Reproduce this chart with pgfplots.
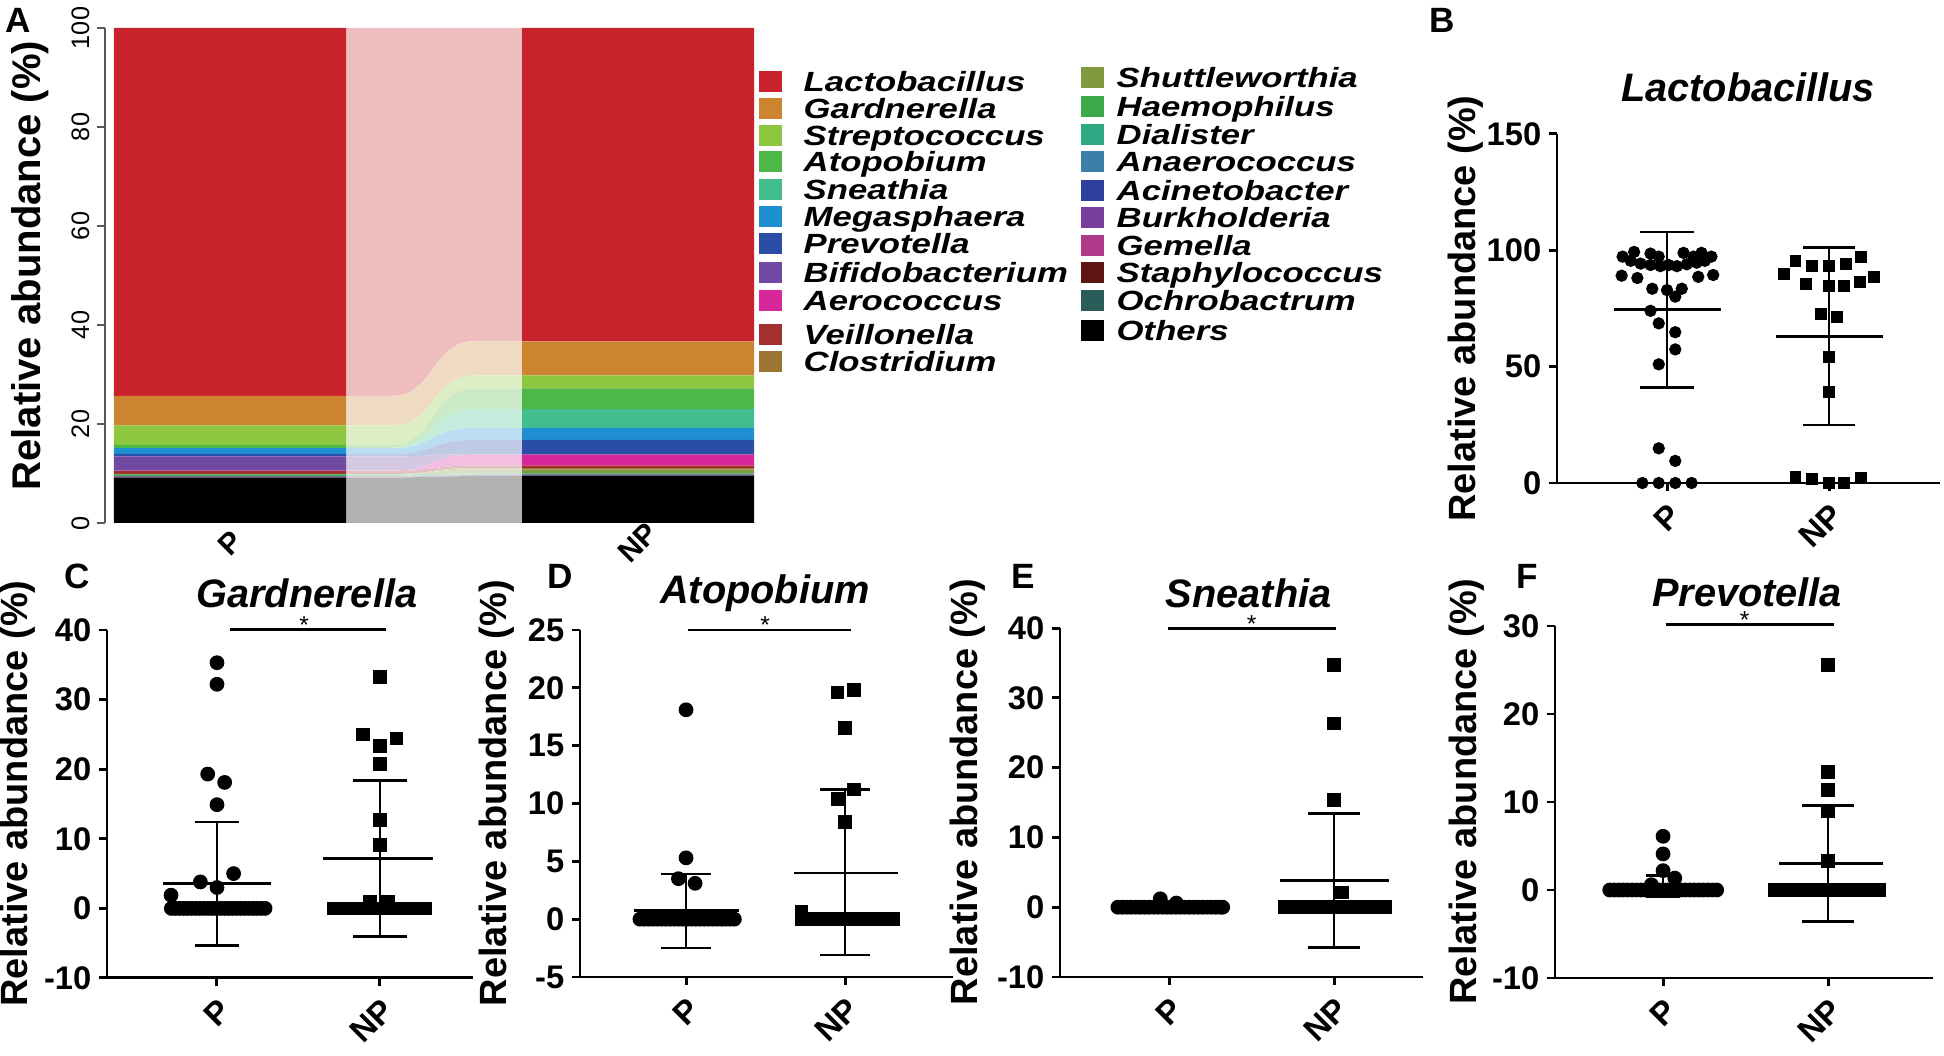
\documentclass[border=0pt]{standalone}
\usepackage{fontspec}
\setmainfont{Liberation Sans}
\newfontfamily\legfamily{Liberation Sans}[FakeStretch=1.25]
\usepackage{pgfplots}
\pgfplotsset{compat=1.18}

\definecolor{cLac}{HTML}{C8232C}
\definecolor{cGar}{HTML}{CD8431}
\definecolor{cStr}{HTML}{8DC63F}
\definecolor{cAto}{HTML}{4DB848}
\definecolor{cSne}{HTML}{42BE8E}
\definecolor{cMeg}{HTML}{1E8FD0}
\definecolor{cPre}{HTML}{2A4EA6}
\definecolor{cBif}{HTML}{7049A3}
\definecolor{cAer}{HTML}{D6279A}
\definecolor{cVei}{HTML}{A1302F}
\definecolor{cClo}{HTML}{9C7434}
\definecolor{cShu}{HTML}{7F9A3F}
\definecolor{cHae}{HTML}{3DA84A}
\definecolor{cDia}{HTML}{2FA883}
\definecolor{cAna}{HTML}{3C7FA8}
\definecolor{cAci}{HTML}{2E3F9E}
\definecolor{cBur}{HTML}{7A3E9E}
\definecolor{cGem}{HTML}{B03A8A}
\definecolor{cSta}{HTML}{5C1414}
\definecolor{cOch}{HTML}{2A5C5A}
\definecolor{cOth}{HTML}{000000}

\newcommand\tickfont{\fontsize{9.3}{10}\selectfont\bfseries}
\newcommand\labfont{\fontsize{10.8}{12}\selectfont\bfseries}
\newcommand\titlefont{\fontsize{11.3}{12}\selectfont\bfseries\itshape}
\newcommand\Atickfont{\fontsize{7.2}{8}\selectfont}
\newcommand\Alabfont{\fontsize{11.4}{12}\selectfont\bfseries}
\newcommand\Axfont{\fontsize{8.5}{9}\selectfont\bfseries}
\newcommand\legfont{\legfamily\fontsize{7.9}{8}\selectfont\bfseries\itshape}
\newcommand\panelfont{\fontsize{10}{11}\selectfont\bfseries}
\newcommand\starfont{\fontsize{7}{8}\selectfont}

% stacked layers, bottom to top: name, colour, P (%), NP (%)
\newcommand\LAYERS{%
\layer{Others}{cOth}{9.15}{9.5}%
\layer{Ochrobactrum}{cOch}{0.05}{0.05}%
\layer{Staphylococcus}{cSta}{0.05}{0.05}%
\layer{Gemella}{cGem}{0.05}{0.05}%
\layer{Burkholderia}{cBur}{0.05}{0.05}%
\layer{Acinetobacter}{cAci}{0.05}{0.05}%
\layer{Anaerococcus}{cAna}{0.05}{0.05}%
\layer{Dialister}{cDia}{0.05}{0.1}%
\layer{Haemophilus}{cHae}{0.3}{0.1}%
\layer{Shuttleworthia}{cShu}{0.05}{0.8}%
\layer{Clostridium}{cClo}{0.05}{0.3}%
\layer{Veillonella}{cVei}{0.6}{0.5}%
\layer{Aerococcus}{cAer}{0.1}{2.2}%
\layer{Bifidobacterium}{cBif}{2.85}{0.1}%
\layer{Prevotella}{cPre}{0.5}{2.9}%
\layer{Megasphaera}{cMeg}{1.15}{2.4}%
\layer{Sneathia}{cSne}{0.1}{3.8}%
\layer{Atopobium}{cAto}{0.6}{4.2}%
\layer{Streptococcus}{cStr}{3.9}{2.6}%
\layer{Gardnerella}{cGar}{6.0}{6.9}%
\layer{Lactobacillus}{cLac}{74.3}{63.3}%
}

\pgfplotsset{
  prism/.style={
    scale only axis, clip=false,
    axis lines=left,
    axis line style={-, line width=0.85pt},
    tick style={black, line width=0.85pt},
    tick align=outside,
    major tick length=0.8mm,
    xtick={0,1}, xticklabels={P,NP},
    xticklabel style={font=\tickfont, rotate=45, anchor=north east, inner sep=2pt},
    yticklabel style={font=\tickfont, inner sep=2pt},
    /pgf/number format/assume math mode=true,
    ylabel={Relative abundance (\%)},
    label style={font=\labfont},
    title style={font=\titlefont},
  },
  dots/.style={only marks, mark=*, mark size=1.9pt, black},
  sqs/.style={only marks, mark=square*, mark size=1.75pt, black},
  sdbar/.style={black, line width=0.75pt, mark=none},
  sig/.style={black, line width=0.85pt, mark=none},
}

\begin{document}
\begin{tikzpicture}
\useasboundingbox (0,0) rectangle (194.4mm,105.6mm);

%================ Panel A ================
\begin{axis}[at={(10.5mm,53.3mm)}, anchor=south west, scale only axis,
  width=64.9mm, height=49.5mm,
  xmin=105, xmax=754, ymin=0, ymax=100,
  ybar stacked, bar width=232,
  axis x line*=bottom, axis y line*=left,
  x axis line style={draw=none},
  y axis line style={line width=0.45pt, black!65},
  ytick={0,20,40,60,80,100},
  ytick style={line width=0.45pt, black!65},
  tick align=outside, major tick length=0.8mm,
  yticklabel style={font=\Atickfont, rotate=90, anchor=south, inner sep=2pt},
  xtick={230,638}, xticklabels={P,NP},
  xtick style={draw=none},
  xticklabel style={font=\Axfont, yshift=-1.2mm, rotate=45, anchor=center},
  ylabel={Relative abundance (\%)},
  ylabel style={font=\Alabfont, at={(axis description cs:-0.116,0.52)}, anchor=center},
  /pgf/number format/assume math mode=true,
  clip=false,
]
\def\layer#1#2#3#4{\addplot[fill=#2, draw=none] coordinates {(230,#3) (638,#4)};}
\LAYERS
\gdef\cP{0}\gdef\cN{0}
\def\layer#1#2#3#4{%
  \pgfmathsetmacro\nP{\cP+#3}\pgfmathsetmacro\nN{\cN+#4}%
  \edef\tmp{\noexpand\fill[#2!30!white] (axis cs:346,\cP) -- (axis cs:393,\cP)
    .. controls (axis cs:433,\cP) and (axis cs:433,\cN) .. (axis cs:473,\cN)
    -- (axis cs:522,\cN) -- (axis cs:522,\nN) -- (axis cs:473,\nN)
    .. controls (axis cs:433,\nN) and (axis cs:433,\nP) .. (axis cs:393,\nP)
    -- (axis cs:346,\nP) -- cycle;}%
  \tmp
  \xdef\cP{\nP}\xdef\cN{\nN}}
\LAYERS
\end{axis}

% legend of panel A
\foreach \c/\t/\yy in {cLac/Lactobacillus/97.4, cGar/Gardnerella/94.7, cStr/Streptococcus/92.0,
  cAto/Atopobium/89.4, cSne/Sneathia/86.6, cMeg/Megasphaera/83.9, cPre/Prevotella/81.2,
  cBif/Bifidobacterium/78.3, cAer/Aerococcus/75.5, cVei/Veillonella/72.1, cClo/Clostridium/69.4}{
  \fill[\c] (75.9mm,\yy mm-1.05mm) rectangle ++(2.3mm,2.1mm);
  \node[anchor=base west, font=\legfont, inner sep=0pt] at (80.3mm,\yy mm-1.0mm) {\t};
}
\foreach \c/\t/\yy in {cShu/Shuttleworthia/97.8, cHae/Haemophilus/94.9, cDia/Dialister/92.1,
  cAna/Anaerococcus/89.4, cAci/Acinetobacter/86.5, cBur/Burkholderia/83.8, cGem/Gemella/81.0,
  cSta/Staphylococcus/78.3, cOch/Ochrobactrum/75.5, cOth/Others/72.5}{
  \fill[\c] (108.1mm,\yy mm-1.05mm) rectangle ++(2.3mm,2.1mm);
  \node[anchor=base west, font=\legfont, inner sep=0pt] at (111.6mm,\yy mm-1.0mm) {\t};
}

%================ Panel B ================
\begin{axis}[prism, at={(155.7mm,57.3mm)}, anchor=south west, width=38.3mm, height=34.9mm,
  xmin=-0.679, xmax=1.685, ymin=0, ymax=150, ytick={0,50,100,150},
  dots/.append style={mark size=1.55pt}, sqs/.append style={mark size=1.5pt},
  title={Lactobacillus}, title style={at={(axis description cs:0.499,1)}, anchor=center, yshift=2.6mm},
  ylabel style={at={(axis description cs:-0.238,0.5)}, anchor=center}]
\addplot[dots] coordinates {
 (-0.274,97.3) (-0.203,99.3) (-0.102,98.6) (-0.051,97.3) (0.102,98.9) (0.163,97.3) (0.213,98.9) (0.274,97.3)
 (-0.224,95.5) (-0.163,94.3) (-0.102,93.7) (-0.041,93.2) (0.010,93.7) (0.061,93.2) (0.122,94.0) (0.183,94.7) (0.234,95.5)
 (-0.280,89.1) (-0.183,88.1) (0.193,88.6) (0.285,89.4)
 (-0.091,83.5) (0,82.9) (0.091,83.5) (0.051,80.1)
 (-0.102,74.0) (-0.051,68.6) (0.051,64.8) (0.051,57.4) (-0.051,51.0)
 (-0.051,14.9) (0.051,9.5)
 (-0.152,0) (-0.051,0) (0.051,0) (0.152,0)};
\addplot[sqs] coordinates {
 (0.793,95.5) (0.722,89.7) (0.894,93.2) (1.0,93.2) (1.102,94.0) (1.199,97.0) (0.858,85.5) (1.0,84.8)
 (1.093,84.8) (1.189,86.3) (1.276,88.6) (0.951,72.8) (1.047,71.2) (1.0,54.0) (1.0,39.2)
 (0.793,2.6) (0.894,1.8) (1.0,0) (1.093,0) (1.199,2.1)};
\addplot[sdbar] coordinates {(-0.325,74.5) (0.335,74.5)};
\addplot[sdbar] coordinates {(0,41.0) (0,107.8)};
\addplot[sdbar] coordinates {(-0.165,107.8) (0.165,107.8)};
\addplot[sdbar] coordinates {(-0.165,41.0) (0.165,41.0)};
\addplot[sdbar] coordinates {(0.67,63.0) (1.335,63.0)};
\addplot[sdbar] coordinates {(1,24.9) (1,101.3)};
\addplot[sdbar] coordinates {(0.84,101.3) (1.16,101.3)};
\addplot[sdbar] coordinates {(0.84,24.9) (1.16,24.9)};
\end{axis}

%================ Panel C ================
\begin{axis}[prism, at={(10.7mm,7.8mm)}, anchor=south west, width=36.6mm, height=34.8mm,
  xmin=-0.675, xmax=1.571, ymin=-10, ymax=40, ytick={-10,0,10,20,30,40},
  title={Gardnerella}, title style={at={(axis description cs:0.546,1)}, anchor=center, yshift=1.6mm},
  ylabel style={at={(axis description cs:-0.243,0.53)}, anchor=center}]
\addplot[dots] coordinates {
 (0,35.3) (0,32.2) (-0.057,19.3) (0.047,18.1) (0,14.9) (0.102,5.0) (-0.102,3.8) (0,3.0) (-0.282,1.9)
 (-0.28,0) (-0.255,0) (-0.23,0) (-0.205,0) (-0.18,0) (-0.155,0) (-0.13,0) (-0.105,0) (-0.08,0) (-0.055,0)
 (-0.03,0) (-0.005,0) (0.02,0) (0.045,0) (0.07,0) (0.095,0) (0.12,0) (0.145,0) (0.17,0) (0.195,0)
 (0.22,0) (0.245,0) (0.27,0) (0.295,0)};
\addplot[sqs] coordinates {
 (1,33.2) (0.894,25.0) (1.102,24.4) (1,23.3) (1,20.7) (1,12.7) (1,9.1) (0.939,0.9) (1.051,0.9)
 (0.72,0) (0.748,0) (0.776,0) (0.804,0) (0.832,0) (0.86,0) (0.888,0) (0.916,0) (0.944,0) (0.972,0)
 (1.0,0) (1.028,0) (1.056,0) (1.084,0) (1.112,0) (1.14,0) (1.168,0) (1.196,0) (1.224,0) (1.252,0) (1.28,0)};
\addplot[sdbar] coordinates {(-0.33,3.6) (0.33,3.6)};
\addplot[sdbar] coordinates {(0,-5.3) (0,12.4)};
\addplot[sdbar] coordinates {(-0.135,12.4) (0.135,12.4)};
\addplot[sdbar] coordinates {(-0.135,-5.3) (0.135,-5.3)};
\addplot[sdbar] coordinates {(0.653,7.2) (1.327,7.2)};
\addplot[sdbar] coordinates {(1,-4.0) (1,18.4)};
\addplot[sdbar] coordinates {(0.837,18.4) (1.163,18.4)};
\addplot[sdbar] coordinates {(0.837,-4.0) (1.163,-4.0)};
\addplot[sig] coordinates {(0.082,40.1) (1.04,40.1)};
\node[font=\starfont, anchor=base, yshift=-0.4mm] at (axis cs:0.535,40.1) {*};
\end{axis}

%================ Panel D ================
\begin{axis}[prism, at={(58.0mm,7.9mm)}, anchor=south west, width=37.3mm, height=34.7mm,
  xmin=-0.667, xmax=1.679, ymin=-5, ymax=25, ytick={-5,0,5,10,15,20,25},
  title={Atopobium}, title style={at={(axis description cs:0.496,1)}, anchor=center, yshift=1.6mm},
  ylabel style={at={(axis description cs:-0.223,0.53)}, anchor=center}]
\addplot[dots] coordinates {
 (0,18.1) (0,5.3) (-0.048,3.5) (0.057,3.1)
 (-0.29,0) (-0.263,0) (-0.236,0) (-0.209,0) (-0.182,0) (-0.155,0) (-0.128,0) (-0.101,0) (-0.074,0) (-0.047,0)
 (-0.02,0) (0.007,0) (0.034,0) (0.061,0) (0.088,0) (0.115,0) (0.142,0) (0.169,0) (0.196,0) (0.223,0)
 (0.25,0) (0.277,0) (0.304,0)};
\addplot[sqs] coordinates {
 (0.952,19.6) (1.057,19.8) (1,16.5) (0.952,10.4) (1.057,11.2) (1,8.4) (0.727,0.6)
 (0.727,0) (0.756,0) (0.785,0) (0.814,0) (0.843,0) (0.872,0) (0.901,0) (0.93,0) (0.959,0) (0.988,0)
 (1.017,0) (1.046,0) (1.075,0) (1.104,0) (1.133,0) (1.162,0) (1.191,0) (1.22,0) (1.249,0) (1.278,0) (1.304,0)};
\addplot[sdbar] coordinates {(-0.33,0.75) (0.335,0.75)};
\addplot[sdbar] coordinates {(0,-2.5) (0,3.9)};
\addplot[sdbar] coordinates {(-0.16,3.9) (0.16,3.9)};
\addplot[sdbar] coordinates {(-0.16,-2.5) (0.16,-2.5)};
\addplot[sdbar] coordinates {(0.676,4.0) (1.33,4.0)};
\addplot[sdbar] coordinates {(1,-3.1) (1,11.2)};
\addplot[sdbar] coordinates {(0.845,11.2) (1.155,11.2)};
\addplot[sdbar] coordinates {(0.845,-3.1) (1.155,-3.1)};
\addplot[sig] coordinates {(0.015,25) (1.036,25)};
\node[font=\starfont, anchor=base, yshift=-0.4mm] at (axis cs:0.497,25) {*};
\end{axis}

%================ Panel E ================
\begin{axis}[prism, at={(106.0mm,7.9mm)}, anchor=south west, width=36.3mm, height=34.9mm,
  xmin=-0.661, xmax=1.539, ymin=-10, ymax=40, ytick={-10,0,10,20,30,40},
  title={Sneathia}, title style={at={(axis description cs:0.52,1)}, anchor=center, yshift=1.4mm},
  ylabel style={at={(axis description cs:-0.253,0.53)}, anchor=center}]
\addplot[dots] coordinates {
 (-0.053,1.2) (0.044,0.6)
 (-0.31,0) (-0.283,0) (-0.256,0) (-0.229,0) (-0.202,0) (-0.175,0) (-0.148,0) (-0.121,0) (-0.094,0) (-0.067,0)
 (-0.04,0) (-0.013,0) (0.014,0) (0.041,0) (0.068,0) (0.095,0) (0.122,0) (0.149,0) (0.176,0) (0.203,0)
 (0.23,0) (0.257,0) (0.284,0) (0.311,0) (0.325,0)};
\addplot[sqs] coordinates {
 (1,34.7) (1,26.3) (1,15.4) (1.05,2.1)
 (0.70,0) (0.729,0) (0.758,0) (0.787,0) (0.816,0) (0.845,0) (0.874,0) (0.903,0) (0.932,0) (0.961,0)
 (0.99,0) (1.019,0) (1.048,0) (1.077,0) (1.106,0) (1.135,0) (1.164,0) (1.193,0) (1.222,0) (1.251,0) (1.28,0) (1.31,0)};
\addplot[sdbar] coordinates {(-0.33,0.1) (0.33,0.1)};
\addplot[sdbar] coordinates {(0.67,3.8) (1.335,3.8)};
\addplot[sdbar] coordinates {(1,-5.8) (1,13.4)};
\addplot[sdbar] coordinates {(0.844,13.4) (1.156,13.4)};
\addplot[sdbar] coordinates {(0.844,-5.8) (1.156,-5.8)};
\addplot[sig] coordinates {(-0.006,40) (1.01,40)};
\node[font=\starfont, anchor=base, yshift=-0.4mm] at (axis cs:0.5,40) {*};
\end{axis}

%================ Panel F ================
\begin{axis}[prism, at={(155.5mm,7.8mm)}, anchor=south west, width=37.8mm, height=35.2mm,
  xmin=-0.655, xmax=1.636, ymin=-10, ymax=30, ytick={-10,0,10,20,30},
  title={Prevotella}, title style={at={(axis description cs:0.508,1)}, anchor=center, yshift=1.3mm},
  ylabel style={at={(axis description cs:-0.233,0.53)}, anchor=center}]
\addplot[dots] coordinates {
 (0,6.1) (0,4.1) (0,2.2) (0.071,1.35) (-0.071,0.6)
 (-0.323,0) (-0.296,0) (-0.269,0) (-0.242,0) (-0.215,0) (-0.188,0) (-0.161,0) (-0.134,0) (-0.107,0) (-0.08,0)
 (-0.053,0) (-0.026,0) (0.001,0) (0.028,0) (0.055,0) (0.082,0) (0.109,0) (0.136,0) (0.163,0) (0.19,0)
 (0.217,0) (0.244,0) (0.271,0) (0.298,0) (0.325,0)};
\addplot[sqs] coordinates {
 (1,25.6) (1,13.4) (1,11.4) (1,9.0) (1,3.3)
 (0.68,0) (0.709,0) (0.738,0) (0.767,0) (0.796,0) (0.825,0) (0.854,0) (0.883,0) (0.912,0) (0.941,0)
 (0.97,0) (0.999,0) (1.028,0) (1.057,0) (1.086,0) (1.115,0) (1.144,0) (1.173,0) (1.202,0) (1.231,0)
 (1.26,0) (1.289,0) (1.31,0)};
\addplot[sdbar] coordinates {(-0.33,0.4) (0.33,0.4)};
\addplot[sdbar] coordinates {(0,-0.8) (0,1.65)};
\addplot[sdbar] coordinates {(-0.105,1.65) (0.105,1.65)};
\addplot[sdbar] coordinates {(-0.105,-0.8) (0.105,-0.8)};
\addplot[sdbar] coordinates {(0.70,3.0) (1.33,3.0)};
\addplot[sdbar] coordinates {(1,-3.6) (1,9.6)};
\addplot[sdbar] coordinates {(0.843,9.6) (1.157,9.6)};
\addplot[sdbar] coordinates {(0.843,-3.6) (1.157,-3.6)};
\addplot[sig] coordinates {(0.016,30.2) (1.036,30.2)};
\node[font=\starfont, anchor=base, yshift=-0.4mm] at (axis cs:0.495,30.2) {*};
\end{axis}

% panel letters
\node[font=\panelfont] at (1.8mm,103.6mm) {A};
\node[font=\panelfont] at (144.2mm,103.6mm) {B};
\node[font=\panelfont] at (7.7mm,48.0mm) {C};
\node[font=\panelfont] at (56.0mm,48.0mm) {D};
\node[font=\panelfont] at (102.3mm,48.0mm) {E};
\node[font=\panelfont] at (152.7mm,48.0mm) {F};
\end{tikzpicture}
\end{document}
